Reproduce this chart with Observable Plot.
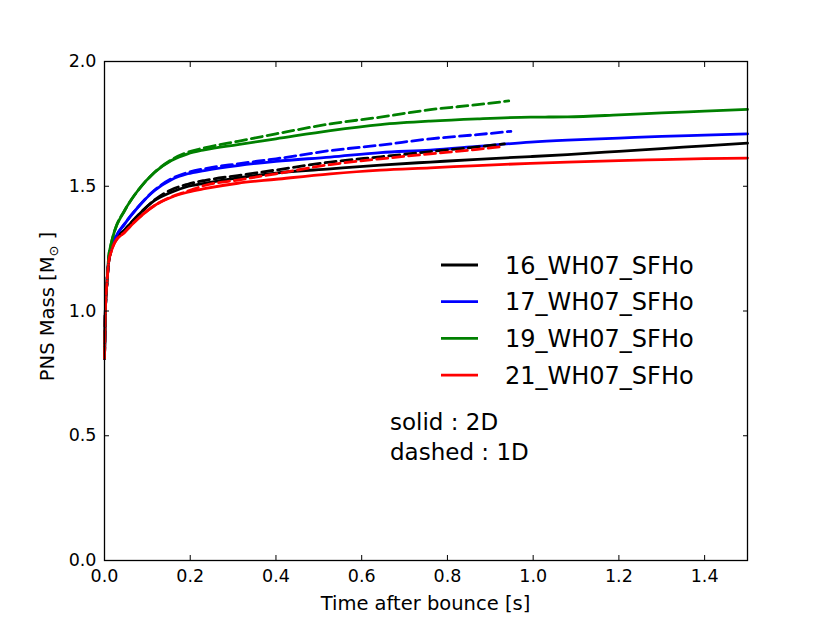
<!DOCTYPE html>
<html>
<head>
<meta charset="utf-8">
<script src="https://cdn.jsdelivr.net/npm/d3@7"></script>
<script src="https://cdn.jsdelivr.net/npm/@observablehq/plot@0.6"></script>
<style>
  html, body { margin: 0; padding: 0; background: #fff; }
  svg { font-family: "DejaVu Sans", sans-serif; }
</style>
</head>
<body>
<div id="chart"></div>
<script>
// ---- data ----
const models = ["16_WH07_SFHo", "17_WH07_SFHo", "19_WH07_SFHo", "21_WH07_SFHo"];
const colors = ["#000000", "#0000ff", "#008000", "#ff0000"];

// 2D runs (solid)
const t2D = [0, 0.002, 0.006, 0.010, 0.015, 0.023, 0.047, 0.078, 0.117, 0.156, 0.194, 0.233, 0.311, 0.40, 0.527, 0.644, 0.76, 0.87, 0.994, 1.08, 1.2, 1.3, 1.4, 1.5];
const m16_2D = [0.81, 1.00, 1.12, 1.20, 1.24, 1.278, 1.325, 1.383, 1.443, 1.476, 1.499, 1.512, 1.534, 1.553, 1.57, 1.585, 1.597, 1.608, 1.619, 1.627, 1.64, 1.651, 1.662, 1.673];
const m17_2D = [0.81, 1.00, 1.12, 1.21, 1.245, 1.285, 1.349, 1.416, 1.483, 1.526, 1.550, 1.563, 1.583, 1.60, 1.617, 1.635, 1.645, 1.66, 1.677, 1.685, 1.693, 1.70, 1.705, 1.71];
const m19_2D = [0.81, 1.00, 1.12, 1.22, 1.265, 1.318, 1.403, 1.483, 1.556, 1.603, 1.630, 1.646, 1.667, 1.69, 1.723, 1.747, 1.761, 1.77, 1.777, 1.778, 1.786, 1.794, 1.801, 1.808];
const m21_2D = [0.81, 1.00, 1.12, 1.20, 1.235, 1.272, 1.316, 1.370, 1.423, 1.456, 1.476, 1.490, 1.512, 1.528, 1.55, 1.565, 1.574, 1.583, 1.592, 1.597, 1.603, 1.607, 1.611, 1.613];

// 1D runs (dashed), shared times plus a per-model end time
const t1D = [0, 0.002, 0.006, 0.010, 0.015, 0.023, 0.047, 0.078, 0.117, 0.156, 0.194, 0.233, 0.311, 0.40, 0.527, 0.644, 0.76, 0.87];
const tEnd1D = [0.933, 0.948, 0.943, 0.930];
const m16_1D = [0.81, 1.00, 1.12, 1.20, 1.24, 1.278, 1.325, 1.383, 1.445, 1.486, 1.508, 1.523, 1.543, 1.565, 1.597, 1.618, 1.639, 1.658, 1.67];
const m17_1D = [0.81, 1.00, 1.12, 1.21, 1.245, 1.285, 1.349, 1.416, 1.485, 1.53, 1.555, 1.57, 1.59, 1.61, 1.643, 1.665, 1.69, 1.707, 1.72];
const m19_1D = [0.81, 1.00, 1.12, 1.22, 1.265, 1.318, 1.403, 1.483, 1.556, 1.606, 1.636, 1.654, 1.68, 1.71, 1.75, 1.777, 1.807, 1.827, 1.842];
const m21_1D = [0.81, 1.00, 1.12, 1.20, 1.235, 1.272, 1.316, 1.370, 1.423, 1.458, 1.48, 1.503, 1.525, 1.55, 1.587, 1.61, 1.63, 1.648, 1.66];

const xTicks = [0, 0.2, 0.4, 0.6, 0.8, 1.0, 1.2, 1.4];
const yTicks = [0, 0.5, 1.0, 1.5, 2.0];
const noteLines = ["solid : 2D", "dashed : 1D"];

// ---- tables ----
const mass2D = [m16_2D, m17_2D, m19_2D, m21_2D];
const mass1D = [m16_1D, m17_1D, m19_1D, m21_1D];
const rows2D = models.flatMap((m, i) => t2D.map((t, j) => ({model: m, t, mass: mass2D[i][j]})));
const rows1D = models.flatMap((m, i) => [...t1D, tEnd1D[i]].map((t, j) => ({model: m, t, mass: mass1D[i][j]})));

const fmt = d3.format(".1f");
const W = 830, H = 623;
const mL = 104, mR = 83, mT = 61, mB = 63;

const chart = Plot.plot({
  width: W, height: H,
  marginLeft: mL, marginRight: mR, marginTop: mT, marginBottom: mB,
  style: {fontFamily: "DejaVu Sans, sans-serif", fontSize: "17.5px", color: "#000", background: "#fff"},
  x: {domain: [0, 1.5], ticks: xTicks, tickFormat: fmt},
  y: {domain: [0, 2.0], ticks: yTicks, tickFormat: fmt},
  color: {domain: models, range: colors},
  marks: [
    Plot.line(rows2D, {x: "t", y: "mass", z: "model", stroke: "model", strokeWidth: 2.8, curve: "monotone-x"}),
    Plot.line(rows1D, {x: "t", y: "mass", z: "model", stroke: "model", strokeWidth: 2.8, strokeDasharray: "11,5", curve: "monotone-x"}),
    Plot.frame({stroke: "#000", strokeWidth: 1.3}),
    Plot.axisX(xTicks, {anchor: "bottom", tickSize: 5, dy: -5, tickPadding: 9, label: null, tickFormat: fmt, stroke: "#000", fill: "#000"}),
    Plot.axisX(xTicks, {anchor: "top", tickSize: 5, dy: 5, label: null, tickFormat: () => "", stroke: "#000"}),
    Plot.axisY(yTicks, {anchor: "left", tickSize: 5, dx: 5, tickPadding: 8, label: null, tickFormat: fmt, stroke: "#000", fill: "#000"}),
    Plot.axisY(yTicks, {anchor: "right", tickSize: 5, dx: -5, label: null, tickFormat: () => "", stroke: "#000"})
  ]
});
document.getElementById("chart").appendChild(chart);

// ---- labels, legend and notes ----
const svg = d3.select(chart);
const plotL = mL, plotR = W - mR, plotT = mT, plotB = H - mB;

svg.append("text")
  .attr("x", (plotL + plotR) / 2).attr("y", 610)
  .attr("text-anchor", "middle").attr("font-size", 19.5).attr("fill", "#000")
  .text("Time after bounce [s]");

const yl = svg.append("text")
  .attr("transform", `translate(${54},${(plotT + plotB) / 2 - 4}) rotate(-90)`)
  .attr("text-anchor", "middle").attr("font-size", 19.5).attr("fill", "#000");
yl.append("tspan").text("PNS Mass [M");
yl.append("tspan").attr("font-size", 13).attr("dy", 4).text("\u2299");
yl.append("tspan").attr("dy", -4).text(" ]");

const lg = svg.append("g");
models.forEach((m, i) => {
  const cy = 265 + i * 36.7;
  lg.append("line").attr("x1", 441).attr("x2", 478).attr("y1", cy).attr("y2", cy)
    .attr("stroke", colors[i]).attr("stroke-width", 2.8);
  lg.append("text").attr("x", 505).attr("y", cy).attr("dy", "0.36em")
    .attr("text-anchor", "start")
    .attr("font-size", 24).attr("fill", "#000").text(m);
});

noteLines.forEach((s, i) => {
  svg.append("text").attr("x", 390).attr("y", 430 + i * 30)
    .attr("text-anchor", "start")
    .attr("font-size", 23).attr("fill", "#000").text(s);
});
</script>
</body>
</html>
